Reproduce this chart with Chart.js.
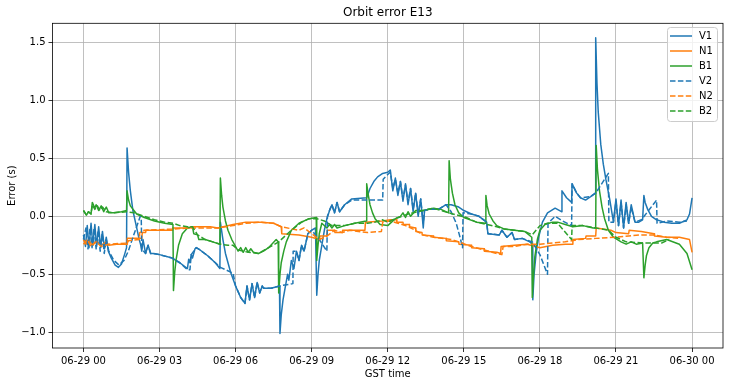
<!DOCTYPE html>
<html>
<head>
<meta charset="utf-8">
<script src="https://cdn.jsdelivr.net/npm/chart.js@4.4.1/dist/chart.umd.min.js"></script>
<style>
html,body{margin:0;padding:0;background:#fff;}
#wrap{width:729px;height:387px;position:relative;}
</style>
</head>
<body>
<div id="wrap"><canvas id="c" width="729" height="387"></canvas></div>
<script>
// ---- data: [hours since 06-29 00:00 GST, error in seconds] ----
const xTickHours = [0,3,6,9,12,15,18,21,24];
const xTickLabels = ['06-29 00','06-29 03','06-29 06','06-29 09','06-29 12','06-29 15','06-29 18','06-29 21','06-30 00'];
const yTickValues = [-1.0,-0.5,0.0,0.5,1.0,1.5];
const seriesLabels = ['V1','N1','B1','V2','N2','B2'];

const v1Points = [[0,-0.16],[0.08,-0.26],[0.15,-0.08],[0.22,-0.27],[0.3,-0.06],[0.37,-0.25],[0.45,-0.07],[0.52,-0.26],[0.6,-0.09],[0.68,-0.27],[0.75,-0.13],[0.83,-0.28],[0.9,-0.18],[0.98,-0.3],[1.1,-0.36],[1.25,-0.42],[1.38,-0.44],[1.5,-0.41],[1.62,-0.33],[1.7,-0.27],[1.72,0.59],[1.78,0.38],[1.85,0.22],[1.95,0.05],[2.1,-0.1],[2.2,-0.2],[2.25,-0.24],[2.3,-0.3],[2.35,-0.2],[2.45,-0.32],[2.55,-0.25],[2.65,-0.32],[2.75,-0.32],[3.0,-0.33],[3.5,-0.36],[3.8,-0.4],[4.1,-0.45],[4.15,-0.37],[4.2,-0.4],[4.25,-0.33],[4.3,-0.36],[4.4,-0.28],[4.45,-0.27],[4.6,-0.29],[4.9,-0.34],[5.2,-0.4],[5.38,-0.45],[5.4,-0.05],[5.5,-0.2],[5.6,-0.32],[5.8,-0.48],[6.0,-0.6],[6.2,-0.7],[6.37,-0.75],[6.45,-0.6],[6.55,-0.72],[6.65,-0.58],[6.75,-0.7],[6.85,-0.57],[6.95,-0.66],[7.05,-0.6],[7.1,-0.62],[7.4,-0.62],[7.73,-0.6],[7.75,-1.01],[7.8,-0.85],[7.87,-0.72],[7.95,-0.62],[8.05,-0.5],[8.1,-0.55],[8.2,-0.38],[8.3,-0.45],[8.4,-0.3],[8.5,-0.38],[8.6,-0.25],[8.7,-0.3],[8.85,-0.15],[9.0,-0.12],[9.15,-0.1],[9.2,-0.68],[9.25,-0.5],[9.3,-0.38],[9.4,-0.25],[9.5,-0.12],[9.6,-0.02],[9.72,0.06],[9.8,0.1],[9.9,0.03],[10.0,0.12],[10.1,0.04],[10.3,0.1],[10.58,0.15],[11.17,0.16],[11.3,0.24],[11.45,0.3],[11.6,0.34],[11.8,0.37],[12.0,0.38],[12.1,0.40],[12.2,0.22],[12.3,0.33],[12.4,0.18],[12.5,0.30],[12.6,0.13],[12.7,0.28],[12.8,0.10],[12.9,0.24],[13.0,0.04],[13.1,0.20],[13.2,0.0],[13.3,0.15],[13.4,-0.10],[13.45,0.05],[13.6,0.06],[14.0,0.06],[14.3,0.1],[14.5,0.1],[14.8,0.08],[15.0,0.05],[15.3,0.02],[15.6,0.0],[15.9,-0.05],[15.95,-0.15],[16.4,-0.16],[16.5,-0.12],[16.7,-0.18],[16.9,-0.14],[17.0,-0.2],[17.3,-0.19],[17.6,-0.22],[17.7,-0.24],[17.72,-0.72],[17.77,-0.5],[17.85,-0.32],[17.95,-0.18],[18.1,-0.05],[18.3,0.03],[18.6,0.07],[18.85,0.04],[18.87,0.22],[19.05,0.16],[19.25,0.12],[19.27,0.28],[19.45,0.2],[19.6,0.16],[19.8,0.14],[20.0,0.17],[20.18,0.2],[20.2,1.54],[20.25,1.15],[20.3,0.9],[20.4,0.62],[20.5,0.45],[20.6,0.32],[20.75,0.15],[20.9,-0.05],[21.0,0.15],[21.1,-0.08],[21.2,0.14],[21.3,-0.1],[21.4,0.12],[21.5,-0.06],[21.6,0.1],[21.75,-0.05],[21.9,-0.05],[22.05,-0.03],[22.1,0.18],[22.15,0.12],[22.25,0.06],[22.4,0.0],[22.6,-0.03],[22.9,-0.05],[23.2,-0.06],[23.5,-0.06],[23.8,-0.03],[23.9,0.02],[24.0,0.16]];

const n1Points = [[0,-0.2],[0.1,-0.24],[0.2,-0.2],[0.35,-0.25],[0.5,-0.21],[0.7,-0.25],[0.9,-0.22],[1.0,-0.25],[1.3,-0.24],[1.72,-0.24],[1.73,-0.19],[2.3,-0.19],[2.32,-0.14],[2.45,-0.14],[2.47,-0.12],[3.5,-0.12],[3.52,-0.1],[4.2,-0.1],[4.22,-0.09],[5.0,-0.09],[5.3,-0.1],[5.9,-0.07],[6.4,-0.05],[7.0,-0.05],[7.5,-0.06],[7.8,-0.09],[7.82,-0.15],[8.5,-0.16],[9.0,-0.18],[9.3,-0.2],[9.32,-0.17],[9.6,-0.17],[9.62,-0.12],[9.9,-0.12],[9.92,-0.14],[10.2,-0.14],[10.22,-0.12],[11.1,-0.12],[11.12,-0.05],[11.8,-0.04],[12.1,-0.03],[12.35,-0.03],[12.36,-0.05],[12.6,-0.05],[12.61,-0.07],[12.85,-0.07],[12.86,-0.09],[13.1,-0.1],[13.11,-0.13],[13.35,-0.14],[13.36,-0.16],[13.8,-0.17],[13.81,-0.18],[14.3,-0.19],[14.31,-0.21],[14.8,-0.22],[14.81,-0.24],[15.3,-0.25],[15.31,-0.27],[15.8,-0.28],[15.81,-0.3],[16.3,-0.31],[16.45,-0.32],[16.47,-0.26],[17.0,-0.25],[17.5,-0.24],[18.0,-0.27],[18.5,-0.25],[19.0,-0.24],[19.28,-0.24],[19.3,-0.2],[19.8,-0.19],[19.82,-0.17],[20.2,-0.17],[20.22,-0.1],[20.8,-0.12],[21.0,-0.14],[21.5,-0.15],[21.52,-0.12],[22.0,-0.13],[22.5,-0.15],[22.52,-0.17],[23.0,-0.18],[23.5,-0.18],[23.9,-0.2],[24.0,-0.31]];

const b1Points = [[0,0.05],[0.12,0.01],[0.2,0.04],[0.3,0.02],[0.35,0.12],[0.45,0.07],[0.5,0.1],[0.6,0.05],[0.7,0.09],[0.8,0.04],[0.9,0.08],[1.0,0.03],[1.2,0.03],[1.5,0.04],[1.7,0.05],[1.72,0.22],[1.78,0.14],[1.85,0.09],[2.1,0.02],[2.4,-0.01],[2.8,-0.04],[3.2,-0.06],[3.53,-0.07],[3.55,-0.64],[3.6,-0.48],[3.65,-0.38],[3.75,-0.25],[3.9,-0.15],[4.1,-0.1],[4.3,-0.09],[4.35,-0.15],[4.5,-0.16],[4.55,-0.2],[4.8,-0.2],[5.1,-0.22],[5.38,-0.24],[5.4,0.33],[5.45,0.18],[5.5,0.08],[5.6,-0.04],[5.7,-0.12],[5.85,-0.2],[6.0,-0.26],[6.1,-0.3],[6.2,-0.27],[6.3,-0.31],[6.4,-0.27],[6.5,-0.31],[6.6,-0.28],[6.7,-0.31],[6.9,-0.32],[7.1,-0.3],[7.3,-0.27],[7.6,-0.2],[7.68,-0.22],[7.7,-0.66],[7.75,-0.5],[7.8,-0.4],[7.9,-0.3],[8.0,-0.22],[8.2,-0.12],[8.5,-0.06],[8.9,-0.02],[9.18,-0.01],[9.2,-0.38],[9.25,-0.25],[9.3,-0.15],[9.4,-0.06],[9.6,-0.1],[9.7,-0.07],[9.8,-0.1],[9.9,-0.07],[10.0,-0.1],[10.3,-0.08],[10.7,-0.06],[11.15,-0.04],[11.17,0.28],[11.22,0.2],[11.3,0.1],[11.4,0.03],[11.5,-0.02],[11.7,-0.07],[12.0,-0.08],[12.3,-0.02],[12.5,0.0],[12.6,0.03],[12.7,-0.01],[12.8,0.04],[12.9,0.0],[13.1,0.05],[13.4,0.05],[13.8,0.07],[14.1,0.06],[14.4,0.03],[14.42,0.48],[14.47,0.32],[14.55,0.2],[14.65,0.1],[14.8,0.03],[15.0,-0.01],[15.5,-0.05],[15.85,-0.06],[15.87,0.18],[15.92,0.09],[16.0,0.02],[16.15,-0.04],[16.3,-0.08],[16.6,-0.11],[17.0,-0.12],[17.4,-0.13],[17.68,-0.18],[17.7,-0.7],[17.75,-0.5],[17.8,-0.35],[17.9,-0.2],[18.0,-0.12],[18.2,-0.07],[18.5,-0.05],[18.7,-0.05],[19.0,-0.07],[19.3,-0.09],[19.7,-0.08],[20.1,-0.1],[20.2,-0.1],[20.22,0.61],[20.27,0.4],[20.35,0.22],[20.45,0.08],[20.55,-0.02],[20.7,-0.12],[20.9,-0.18],[21.2,-0.22],[21.4,-0.24],[21.6,-0.22],[21.8,-0.24],[22.05,-0.23],[22.1,-0.53],[22.15,-0.42],[22.2,-0.34],[22.3,-0.27],[22.45,-0.23],[22.6,-0.22],[23.0,-0.2],[23.5,-0.24],[23.8,-0.32],[24.0,-0.46]];

const v2Points = [[0,-0.2],[0.1,-0.1],[0.18,-0.28],[0.26,-0.1],[0.34,-0.27],[0.42,-0.1],[0.5,-0.28],[0.58,-0.12],[0.66,-0.3],[0.74,-0.15],[0.82,-0.32],[0.9,-0.2],[1.0,-0.3],[1.2,-0.38],[1.4,-0.42],[1.6,-0.38],[1.77,-0.3],[2.0,-0.15],[2.24,0.0],[2.28,-0.02],[2.3,-0.28],[2.45,-0.32],[2.55,-0.25],[2.65,-0.32],[2.75,-0.32],[3.0,-0.33],[3.5,-0.36],[3.8,-0.4],[4.1,-0.46],[4.2,-0.46],[4.25,-0.33],[4.45,-0.27],[4.6,-0.29],[4.9,-0.34],[5.2,-0.4],[5.4,-0.44],[5.9,-0.49],[6.0,-0.6],[6.2,-0.7],[6.37,-0.75],[6.45,-0.6],[6.55,-0.72],[6.65,-0.58],[6.75,-0.7],[6.85,-0.57],[6.95,-0.66],[7.05,-0.6],[7.1,-0.62],[7.4,-0.62],[7.73,-0.6],[8.26,-0.58],[8.27,-0.3],[8.4,-0.3],[8.5,-0.38],[8.6,-0.25],[8.7,-0.3],[8.85,-0.15],[9.0,-0.12],[9.3,-0.2],[9.6,-0.3],[9.62,0.0],[9.72,0.06],[9.8,0.1],[9.9,0.03],[10.0,0.12],[10.1,0.04],[10.3,0.1],[10.58,0.14],[11.17,0.14],[11.8,0.14],[11.82,0.32],[12.0,0.36],[12.1,0.38],[12.2,0.24],[12.3,0.32],[12.4,0.2],[12.5,0.3],[12.6,0.15],[12.7,0.27],[12.8,0.12],[12.9,0.24],[13.0,0.06],[13.1,0.2],[13.2,0.02],[13.3,0.15],[13.4,-0.06],[13.45,0.05],[13.6,0.06],[14.0,0.06],[14.3,0.1],[14.5,0.04],[14.7,-0.06],[14.85,-0.18],[14.95,-0.27],[14.97,0.03],[15.3,0.02],[15.6,0.0],[15.9,-0.05],[15.95,-0.15],[16.4,-0.16],[16.5,-0.12],[16.7,-0.18],[16.9,-0.14],[17.0,-0.2],[17.3,-0.19],[17.7,-0.22],[18.0,-0.33],[18.3,-0.5],[18.32,-0.06],[18.6,0.0],[18.9,-0.04],[19.25,-0.08],[19.27,0.28],[19.45,0.2],[19.6,0.16],[20.0,0.17],[20.2,0.2],[20.7,0.37],[20.72,-0.05],[20.9,-0.05],[21.0,0.13],[21.1,-0.08],[21.2,0.12],[21.3,-0.1],[21.4,0.1],[21.5,-0.06],[21.6,0.08],[21.75,-0.05],[22.0,-0.03],[22.6,0.14],[22.62,-0.06],[23.0,-0.04],[23.5,-0.05],[23.8,-0.04]];

const n2Points = [[0,-0.24],[0.15,-0.2],[0.3,-0.26],[0.5,-0.22],[0.7,-0.26],[1.0,-0.24],[1.75,-0.23],[1.77,-0.21],[2.2,-0.2],[2.22,-0.14],[2.4,-0.12],[3.5,-0.11],[4.2,-0.1],[4.6,-0.1],[5.3,-0.1],[5.9,-0.08],[6.4,-0.06],[7.0,-0.05],[7.5,-0.06],[7.8,-0.09],[8.5,-0.12],[8.7,-0.1],[9.3,-0.2],[9.6,-0.17],[9.9,-0.12],[10.2,-0.14],[10.5,-0.12],[11.2,-0.14],[11.75,-0.13],[11.8,-0.05],[12.1,-0.04],[12.4,-0.06],[12.7,-0.08],[13.0,-0.11],[13.4,-0.16],[13.8,-0.18],[14.5,-0.2],[14.8,-0.22],[15.3,-0.26],[15.8,-0.29],[16.3,-0.32],[16.5,-0.33],[16.55,-0.26],[17.0,-0.26],[17.5,-0.24],[18.0,-0.24],[18.5,-0.23],[19.0,-0.22],[19.5,-0.2],[20.2,-0.19],[21.0,-0.18],[21.5,-0.17],[22.0,-0.16],[22.5,-0.16],[23.0,-0.18],[23.5,-0.19]];

const b2Points = [[0,0.05],[0.12,0.01],[0.2,0.04],[0.3,0.02],[0.35,0.1],[0.45,0.06],[0.55,0.09],[0.65,0.05],[0.75,0.08],[0.9,0.04],[1.2,0.03],[1.7,0.04],[2.0,0.03],[2.4,0.0],[2.8,-0.03],[3.2,-0.05],[3.55,-0.06],[3.8,-0.08],[4.1,-0.09],[4.3,-0.09],[4.5,-0.16],[4.8,-0.2],[5.1,-0.22],[5.4,-0.24],[5.7,-0.25],[5.9,-0.25],[6.1,-0.29],[6.5,-0.31],[6.9,-0.32],[7.3,-0.27],[7.7,-0.22],[8.2,-0.12],[8.6,-0.05],[8.9,-0.02],[9.2,-0.02],[9.5,-0.04],[9.8,-0.08],[10.3,-0.08],[10.7,-0.06],[11.2,-0.06],[11.5,-0.05],[11.8,-0.03],[12.0,-0.05],[12.3,-0.02],[12.8,0.02],[13.4,0.05],[13.8,0.07],[14.4,0.03],[15.1,-0.01],[15.5,-0.05],[15.9,-0.07],[16.3,-0.09],[16.6,-0.11],[17.0,-0.12],[17.4,-0.13],[17.7,-0.16],[18.0,-0.08],[18.3,-0.06],[18.7,-0.06],[19.25,-0.2],[19.27,-0.08],[19.7,-0.08],[20.2,-0.1],[20.7,-0.12],[21.0,-0.18],[21.4,-0.22],[22.1,-0.23],[22.8,-0.23],[23.1,-0.2]];

// ---- chart ----
const BLUE='#1f77b4', ORANGE='#ff7f0e', GREEN='#2ca02c';
const DASH=[5.5,2.4];
const FONT='"DejaVu Sans", sans-serif';
const seriesPoints=[v1Points,n1Points,b1Points,v2Points,n2Points,b2Points];
const seriesColors=[BLUE,ORANGE,GREEN,BLUE,ORANGE,GREEN];
const datasets=seriesPoints.map((p,i)=>({
  label:seriesLabels[i], data:p.map(q=>({x:q[0],y:q[1]})),
  borderColor:seriesColors[i], backgroundColor:seriesColors[i],
  borderWidth:1.5, pointRadius:0, tension:0, fill:false, borderDash:i>=3?DASH:[],
  borderCapStyle:'butt', borderJoinStyle:'round', order:5-i
}));

const framePlugin={
  id:'frame',
  afterDraw(chart){
    const {ctx,chartArea:a}=chart;
    ctx.save();
    ctx.strokeStyle='#000';ctx.lineWidth=0.8;
    ctx.strokeRect(a.left,a.top,a.right-a.left,a.bottom-a.top);
    // legend box
    const x0=667.5,y0=27.5,w=50,h=94,r=3;
    ctx.beginPath();
    ctx.moveTo(x0+r,y0);ctx.lineTo(x0+w-r,y0);ctx.quadraticCurveTo(x0+w,y0,x0+w,y0+r);
    ctx.lineTo(x0+w,y0+h-r);ctx.quadraticCurveTo(x0+w,y0+h,x0+w-r,y0+h);
    ctx.lineTo(x0+r,y0+h);ctx.quadraticCurveTo(x0,y0+h,x0,y0+h-r);
    ctx.lineTo(x0,y0+r);ctx.quadraticCurveTo(x0,y0,x0+r,y0);ctx.closePath();
    ctx.fillStyle='rgba(255,255,255,0.8)';ctx.fill();
    ctx.strokeStyle='#cccccc';ctx.lineWidth=1;ctx.stroke();
    ctx.font='10px '+FONT;ctx.textBaseline='middle';ctx.fillStyle='#000';
    chart.data.datasets.forEach((ds,i)=>{
      const y=36+i*15;
      ctx.beginPath();ctx.setLineDash(ds.borderDash||[]);
      ctx.strokeStyle=ds.borderColor;ctx.lineWidth=1.5;
      ctx.moveTo(670,y);ctx.lineTo(692,y);ctx.stroke();
      ctx.setLineDash([]);
      ctx.fillText(ds.label,699,y+0.5);
    });
    ctx.restore();
  }
};

new Chart(document.getElementById('c'),{
  type:'line',
  data:{datasets:datasets},
  plugins:[framePlugin],
  options:{
    responsive:false, animation:false, devicePixelRatio:1,
    layout:{padding:{left:0,right:6,top:0,bottom:0}},
    plugins:{
      legend:{display:false},
      tooltip:{enabled:false},
      title:{display:true,text:'Orbit error E13',fullSize:false,color:'#000',
        font:{family:FONT,size:12,weight:'normal'},padding:{top:5.5,bottom:3.4}}
    },
    scales:{
      x:{type:'linear',min:-1.22,max:25.22,
        afterBuildTicks(s){s.ticks=xTickHours.map(v=>({value:v}));},
        afterFit(s){s.height=39;},
        ticks:{autoSkip:false,maxRotation:0,color:'#000',font:{family:FONT,size:10},padding:3,
          callback(v){const i=xTickHours.indexOf(v);return i>=0?xTickLabels[i]:'';}},
        grid:{color:'#b0b0b0',lineWidth:0.8,tickColor:'#000',tickLength:4,drawTicks:true},
        border:{display:false},
        title:{display:true,text:'GST time',color:'#000',font:{family:FONT,size:10},padding:{top:0,bottom:7}}
      },
      y:{type:'linear',min:-1.135,max:1.664,
        afterBuildTicks(s){s.ticks=yTickValues.map(v=>({value:v}));},
        afterFit(s){s.width=52.5;},
        ticks:{color:'#000',font:{family:FONT,size:10},padding:3,
          callback(v){const s=v.toFixed(1);return v<0?'\u2212'+s.slice(1):s;}},
        grid:{color:'#b0b0b0',lineWidth:0.8,tickColor:'#000',tickLength:4,drawTicks:true},
        border:{display:false},
        title:{display:true,text:'Error (s)',color:'#000',font:{family:FONT,size:10},padding:{top:6,bottom:0}}
      }
    }
  }
});
</script>
</body>
</html>
